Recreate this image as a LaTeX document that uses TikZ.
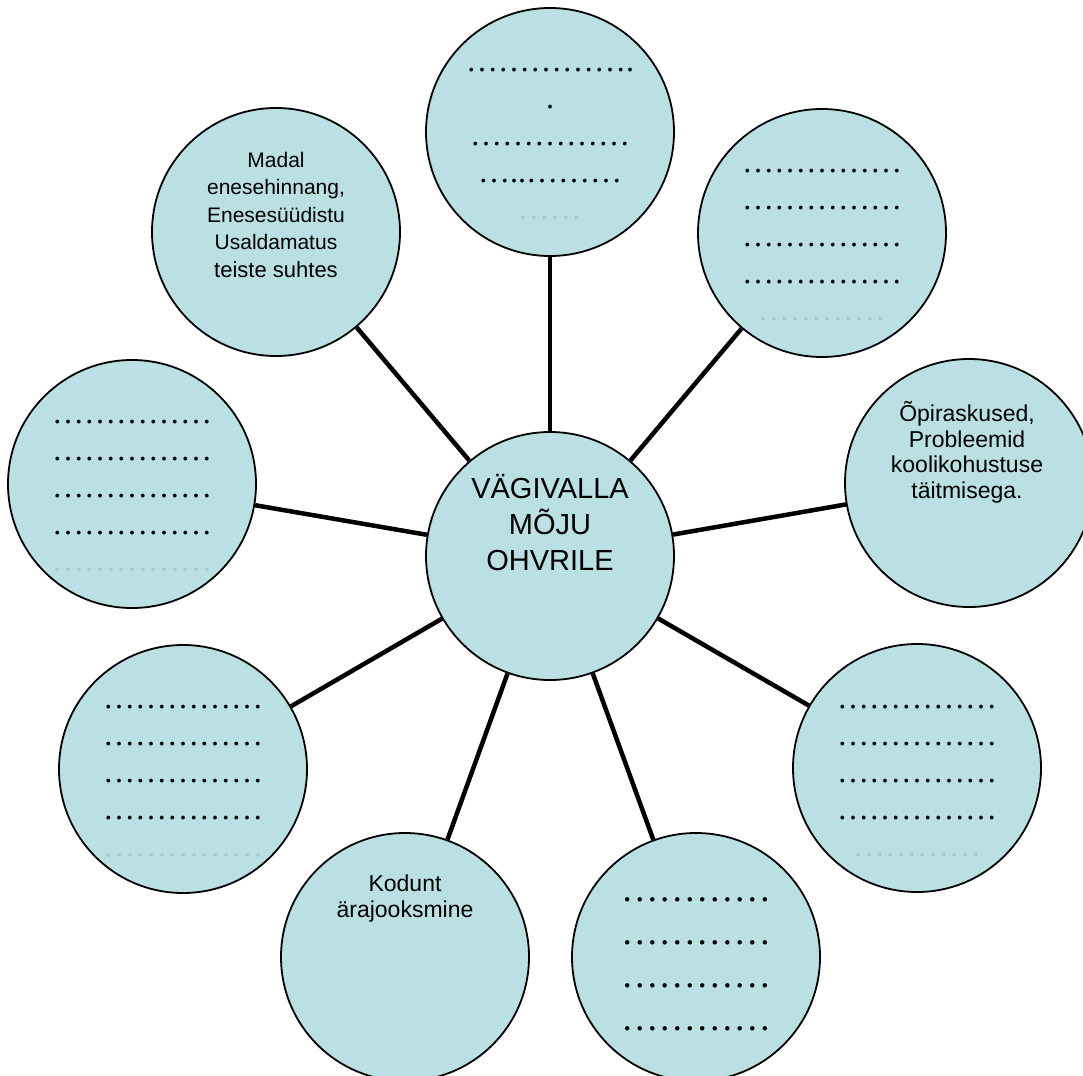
\documentclass[tikz,border=0pt]{standalone}
\usepackage{fontspec}
\setmainfont{Liberation Sans}
\newfontfamily\dotfont{Liberation Serif}
\usetikzlibrary{positioning}

\definecolor{bubblefill}{RGB}{187,224,227}
\definecolor{fadedot}{RGB}{165,203,207}

\tikzset{
  bubble/.style={circle, draw, line width=1.8pt, fill=bubblefill, minimum size=248pt, inner sep=0pt},
  spoke/.style={line width=4.5pt},
  bubbletext/.style={align=center, anchor=base, inner sep=0pt},
  dotrows/.style={bubbletext, font=\dotfont\fontsize{32}{37}\selectfont},
}

\begin{document}
\begin{tikzpicture}[x=1pt, y=-1pt]
\useasboundingbox (0,0) rectangle (1083,1075);
\clip (0,0) rectangle (1083,1075);

% circles
\node[bubble] (c) at (550,556) {};
\node[bubble] (n) at (550,132) {};
\node[bubble] (ne) at (822,233) {};
\node[bubble] (e) at (969,483) {};
\node[bubble] (se) at (917,768) {};
\node[bubble] (sse) at (696,957) {};
\node[bubble] (ssw) at (405,957) {};
\node[bubble] (sw) at (183,769) {};
\node[bubble] (w) at (132,484) {};
\node[bubble] (nw) at (276,232) {};

\foreach \b in {n,ne,e,se,sse,ssw,sw,w,nw}
  \draw[spoke] (c) -- (\b);

% texts (anchored at the baseline of the last line)
\node[bubbletext, font=\fontsize{29}{36}\selectfont] (c-txt) at (550,570) {VÄGIVALLA\\MÕJU\\OHVRILE};
\node[bubbletext, font=\fontsize{21}{27.5}\selectfont] (nw-txt) at (276,277)
  {Madal\\enesehinnang,\\Enesesüüdistu\\Usaldamatus\\{\fontsize{22}{27.5}\selectfont teiste suhtes}};
\node[bubbletext, font=\fontsize{23}{25.5}\selectfont] (e-txt) at (967,498)
  {Õpiraskused,\\Probleemid\\koolikohustuse\\täitmisega.};
\node[bubbletext, font=\fontsize{23}{25.5}\selectfont] (ssw-txt) at (405,917) {Kodunt\\ärajooksmine};

\node[dotrows] (n-txt) at (550,220)
  {…………….\\.\\……………\\…..………\\\textcolor{fadedot}{……}};
\node[dotrows] (ne-txt) at (822,320)
  {……………\\……………\\……………\\……………\\\textcolor{fadedot}{…………}};
\node[dotrows] (w-txt) at (132,571)
  {……………\\……………\\……………\\……………\\\textcolor{fadedot}{……………}};
\node[dotrows] (sw-txt) at (183,856)
  {……………\\……………\\……………\\……………\\\textcolor{fadedot}{……………}};
\node[dotrows] (se-txt) at (917,856)
  {……………\\……………\\……………\\……………\\\textcolor{fadedot}{…………}};
\node[dotrows, font=\dotfont\fontsize{37.5}{43}\selectfont] (sse-txt) at (696,1030)
  {…………\\…………\\…………\\…………};
\end{tikzpicture}
\end{document}
